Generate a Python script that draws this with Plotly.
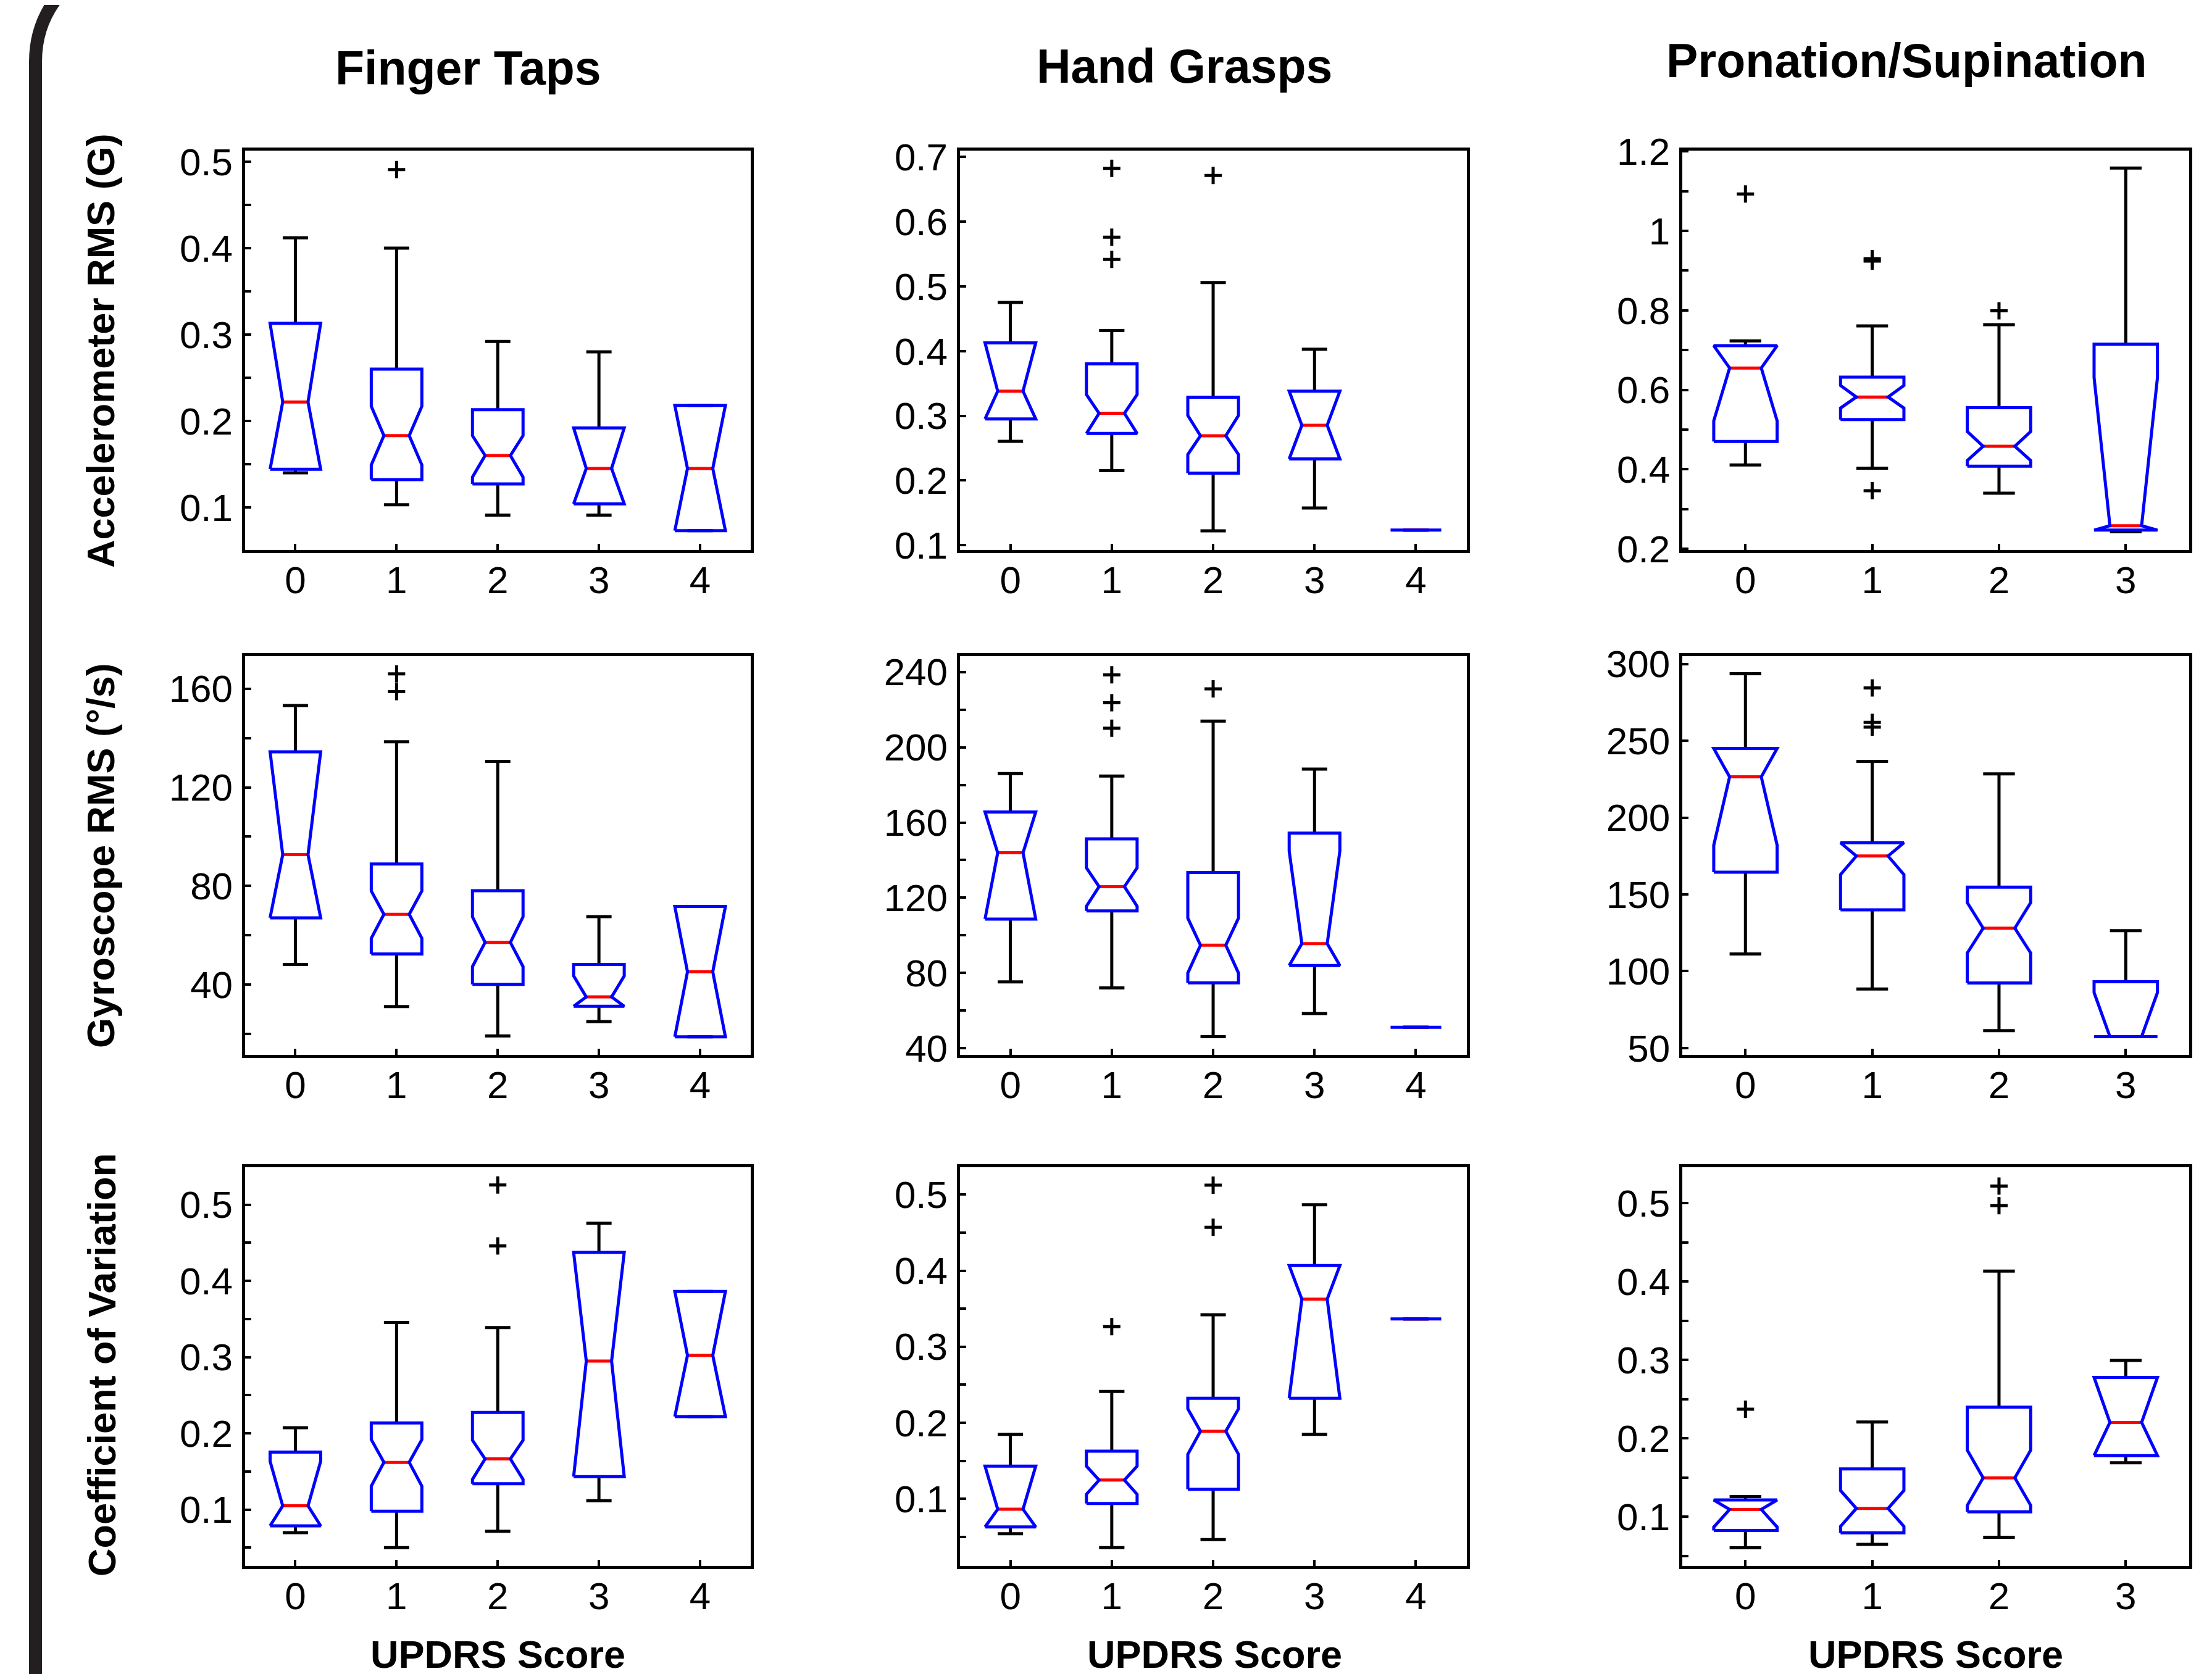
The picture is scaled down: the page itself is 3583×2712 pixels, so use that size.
import plotly.graph_objects as go
from plotly.subplots import make_subplots

# ------------------------------------------------------------------ data
SCORES_5 = [0, 1, 2, 3, 4]
SCORES_4 = [0, 1, 2, 3]

# Finger Taps – accelerometer RMS (G)
ft_acc_lower = [0.140, 0.103, 0.091, 0.091, 0.073]
ft_acc_q1 = [0.144, 0.132, 0.127, 0.104, 0.073]
ft_acc_notch_lo = [0.144, 0.149, 0.135, 0.104, 0.073]
ft_acc_median = [0.222, 0.183, 0.160, 0.145, 0.145]
ft_acc_notch_hi = [0.313, 0.217, 0.183, 0.192, 0.218]
ft_acc_q3 = [0.313, 0.260, 0.213, 0.192, 0.218]
ft_acc_upper = [0.412, 0.400, 0.292, 0.280, 0.218]
ft_acc_out_x = [1]
ft_acc_out_y = [0.491]

# Hand Grasps – accelerometer RMS (G)
hg_acc_lower = [0.2605, 0.2153, 0.1221, 0.1574, 0.1233]
hg_acc_q1 = [0.2952, 0.2727, 0.2113, 0.2333, 0.1233]
hg_acc_notch_lo = [0.2952, 0.2727, 0.2402, 0.2333, 0.1233]
hg_acc_median = [0.3381, 0.3039, 0.2692, 0.2854, 0.1233]
hg_acc_notch_hi = [0.4128, 0.3329, 0.3005, 0.3381, 0.1233]
hg_acc_q3 = [0.4128, 0.3804, 0.3288, 0.3381, 0.1233]
hg_acc_upper = [0.4753, 0.4319, 0.5060, 0.4030, 0.1233]
hg_acc_out_x = [1, 1, 1, 2]
hg_acc_out_y = [0.6826, 0.5761, 0.5419, 0.6716]

# Pronation/Supination – accelerometer RMS (G)
ps_acc_lower = [0.411, 0.403, 0.340, 0.243]
ps_acc_q1 = [0.470, 0.525, 0.408, 0.247]
ps_acc_notch_lo = [0.522, 0.554, 0.422, 0.247]
ps_acc_median = [0.655, 0.582, 0.458, 0.258]
ps_acc_notch_hi = [0.711, 0.611, 0.495, 0.631]
ps_acc_q3 = [0.711, 0.632, 0.555, 0.715]
ps_acc_upper = [0.723, 0.761, 0.764, 1.158]
ps_acc_out_x = [0, 1, 1, 1, 2]
ps_acc_out_y = [1.093, 0.930, 0.924, 0.346, 0.799]

# Finger Taps – gyroscope RMS (deg/s)
ft_gyr_lower = [48.2, 31.1, 19.2, 25.0, 18.8]
ft_gyr_q1 = [67.1, 52.4, 40.1, 31.2, 18.8]
ft_gyr_notch_lo = [67.1, 58.8, 47.3, 31.2, 18.8]
ft_gyr_median = [92.7, 68.5, 57.1, 35.0, 45.2]
ft_gyr_notch_hi = [134.4, 78.0, 67.5, 43.5, 71.7]
ft_gyr_q3 = [134.4, 88.9, 78.1, 48.2, 71.7]
ft_gyr_upper = [153.2, 138.5, 130.5, 67.6, 71.7]
ft_gyr_out_x = [1, 1]
ft_gyr_out_y = [166.0, 158.8]

# Hand Grasps – gyroscope RMS (deg/s)
hg_gyr_lower = [75.3, 72.1, 46.2, 58.5, 51.2]
hg_gyr_q1 = [108.7, 113.0, 74.8, 84.0, 51.2]
hg_gyr_notch_lo = [108.7, 115.5, 80.0, 84.0, 51.2]
hg_gyr_median = [143.9, 125.9, 94.8, 95.6, 51.2]
hg_gyr_notch_hi = [165.6, 135.9, 109.2, 144.9, 51.2]
hg_gyr_q3 = [165.6, 151.3, 133.4, 154.3, 51.2]
hg_gyr_upper = [186.0, 184.7, 213.9, 188.4, 51.2]
hg_gyr_out_x = [1, 1, 1, 2]
hg_gyr_out_y = [238.5, 223.6, 210.1, 231.0]

# Pronation/Supination – gyroscope RMS (deg/s)
ps_gyr_lower = [111.2, 88.4, 61.3, 57.4]
ps_gyr_q1 = [164.5, 139.9, 92.3, 57.4]
ps_gyr_notch_lo = [182.0, 162.9, 111.8, 57.4]
ps_gyr_median = [226.5, 175.0, 128.0, 57.4]
ps_gyr_notch_hi = [245.0, 183.6, 144.6, 86.1]
ps_gyr_q3 = [245.0, 183.6, 154.7, 93.1]
ps_gyr_upper = [293.6, 236.6, 228.4, 126.4]
ps_gyr_out_x = [1, 1, 1]
ps_gyr_out_y = [284.4, 262.0, 258.9]

# Finger Taps – coefficient of variation
ft_cv_lower = [0.0697, 0.0501, 0.0715, 0.1116, 0.2220]
ft_cv_q1 = [0.0786, 0.0978, 0.1339, 0.1432, 0.2220]
ft_cv_notch_lo = [0.0786, 0.1307, 0.1396, 0.1432, 0.2220]
ft_cv_median = [0.1049, 0.1619, 0.1664, 0.2947, 0.3022]
ft_cv_notch_hi = [0.1633, 0.1918, 0.1909, 0.4372, 0.3860]
ft_cv_q3 = [0.1753, 0.2136, 0.2274, 0.4372, 0.3860]
ft_cv_upper = [0.2074, 0.3454, 0.3388, 0.4755, 0.3860]
ft_cv_out_x = [2, 2]
ft_cv_out_y = [0.5258, 0.4457]

# Hand Grasps – coefficient of variation
hg_cv_lower = [0.0540, 0.0357, 0.0464, 0.1848, 0.3366]
hg_cv_q1 = [0.0629, 0.0938, 0.1125, 0.2321, 0.3366]
hg_cv_notch_lo = [0.0629, 0.1058, 0.1585, 0.2321, 0.3366]
hg_cv_median = [0.0862, 0.1246, 0.1888, 0.3625, 0.3366]
hg_cv_notch_hi = [0.1429, 0.1429, 0.2183, 0.4067, 0.3366]
hg_cv_q3 = [0.1429, 0.1625, 0.2321, 0.4067, 0.3366]
hg_cv_upper = [0.1848, 0.2411, 0.3420, 0.4866, 0.3366]
hg_cv_out_x = [1, 2, 2]
hg_cv_out_y = [0.3263, 0.5125, 0.4571]

# Pronation/Supination – coefficient of variation
ps_cv_lower = [0.0607, 0.0650, 0.0741, 0.1691]
ps_cv_q1 = [0.0827, 0.0797, 0.1065, 0.1782]
ps_cv_notch_lo = [0.0870, 0.0879, 0.1147, 0.1782]
ps_cv_median = [0.1095, 0.1108, 0.1497, 0.2205]
ps_cv_notch_hi = [0.1216, 0.1337, 0.1851, 0.2780]
ps_cv_q3 = [0.1216, 0.1613, 0.2400, 0.2780]
ps_cv_upper = [0.1259, 0.2210, 0.4136, 0.2996]
ps_cv_out_x = [0, 2, 2]
ps_cv_out_y = [0.2374, 0.5220, 0.4970]

# tick labels
acc_ft_ticks = [0.1, 0.15, 0.2, 0.25, 0.3, 0.35, 0.4, 0.45, 0.5]
acc_ft_labels = ["0.1", "", "0.2", "", "0.3", "", "0.4", "", "0.5"]
acc_hg_ticks = [0.1, 0.2, 0.3, 0.4, 0.5, 0.6, 0.7]
acc_hg_labels = ["0.1", "0.2", "0.3", "0.4", "0.5", "0.6", "0.7"]
acc_ps_ticks = [0.2, 0.3, 0.4, 0.5, 0.6, 0.7, 0.8, 0.9, 1.0, 1.1, 1.2]
acc_ps_labels = ["0.2", "", "0.4", "", "0.6", "", "0.8", "", "1", "", "1.2"]
gyr_ft_ticks = [20, 40, 60, 80, 100, 120, 140, 160]
gyr_ft_labels = ["", "40", "", "80", "", "120", "", "160"]
gyr_hg_ticks = [40, 60, 80, 100, 120, 140, 160, 180, 200, 220, 240]
gyr_hg_labels = ["40", "", "80", "", "120", "", "160", "", "200", "", "240"]
gyr_ps_ticks = [50, 100, 150, 200, 250, 300]
gyr_ps_labels = ["50", "100", "150", "200", "250", "300"]
cv_ticks = [0.05, 0.1, 0.15, 0.2, 0.25, 0.3, 0.35, 0.4, 0.45, 0.5]
cv_labels = ["", "0.1", "", "0.2", "", "0.3", "", "0.4", "", "0.5"]

col_titles = ["Finger Taps", "Hand Grasps", "Pronation/Supination"]
row_titles = ["Accelerometer RMS (G)", "Gyroscope RMS (°/s)", "Coefficient of Variation"]
x_title = "UPDRS Score"

# ------------------------------------------------------------------ layout
W, H = 3583, 2712
OFF = 8  # the page body margin shifts the figure by this many pixels
FONT = "Liberation Sans, Arial, Helvetica, sans-serif"
BOX_HALF = 0.25
NOTCH_HALF = 0.125
CAP_HALF = 0.125
LW = 5


def px_x(x):
    return (x - OFF) / W


def px_y(y):
    return 1 - (y - OFF) / H


x_px = [(396.5, 1216.0), (1554.5, 2375.6), (2724.6, 3546.0)]
y_px = [(244.0, 891.0), (1063.0, 1709.0), (1891.0, 2537.0)]

panels = [
    (1, 1, SCORES_5, ft_acc_lower, ft_acc_q1, ft_acc_notch_lo, ft_acc_median, ft_acc_notch_hi, ft_acc_q3, ft_acc_upper, ft_acc_out_x, ft_acc_out_y, [0.0506, 0.513], acc_ft_ticks, acc_ft_labels),
    (1, 2, SCORES_5, hg_acc_lower, hg_acc_q1, hg_acc_notch_lo, hg_acc_median, hg_acc_notch_hi, hg_acc_q3, hg_acc_upper, hg_acc_out_x, hg_acc_out_y, [0.0926, 0.710], acc_hg_ticks, acc_hg_labels),
    (1, 3, SCORES_4, ps_acc_lower, ps_acc_q1, ps_acc_notch_lo, ps_acc_median, ps_acc_notch_hi, ps_acc_q3, ps_acc_upper, ps_acc_out_x, ps_acc_out_y, [0.197, 1.202], acc_ps_ticks, acc_ps_labels),
    (2, 1, SCORES_5, ft_gyr_lower, ft_gyr_q1, ft_gyr_notch_lo, ft_gyr_median, ft_gyr_notch_hi, ft_gyr_q3, ft_gyr_upper, ft_gyr_out_x, ft_gyr_out_y, [11.5, 173.2], gyr_ft_ticks, gyr_ft_labels),
    (2, 2, SCORES_5, hg_gyr_lower, hg_gyr_q1, hg_gyr_notch_lo, hg_gyr_median, hg_gyr_notch_hi, hg_gyr_q3, hg_gyr_upper, hg_gyr_out_x, hg_gyr_out_y, [36.5, 248.4], gyr_hg_ticks, gyr_hg_labels),
    (2, 3, SCORES_4, ps_gyr_lower, ps_gyr_q1, ps_gyr_notch_lo, ps_gyr_median, ps_gyr_notch_hi, ps_gyr_q3, ps_gyr_upper, ps_gyr_out_x, ps_gyr_out_y, [45.5, 305.1], gyr_ps_ticks, gyr_ps_labels),
    (3, 1, SCORES_5, ft_cv_lower, ft_cv_q1, ft_cv_notch_lo, ft_cv_median, ft_cv_notch_hi, ft_cv_q3, ft_cv_upper, ft_cv_out_x, ft_cv_out_y, [0.026, 0.549], cv_ticks, cv_labels),
    (3, 2, SCORES_5, hg_cv_lower, hg_cv_q1, hg_cv_notch_lo, hg_cv_median, hg_cv_notch_hi, hg_cv_q3, hg_cv_upper, hg_cv_out_x, hg_cv_out_y, [0.0116, 0.536], cv_ticks, cv_labels),
    (3, 3, SCORES_4, ps_cv_lower, ps_cv_q1, ps_cv_notch_lo, ps_cv_median, ps_cv_notch_hi, ps_cv_q3, ps_cv_upper, ps_cv_out_x, ps_cv_out_y, [0.0374, 0.546], cv_ticks, cv_labels),
]

fig = make_subplots(rows=3, cols=3)


def add_panel(row, col, pos, lower, q1, nlo, med, nhi, q3, upper, ox, oy):
    wx, wy, mx, my, bx, by = [], [], [], [], [], []
    for p, lw, a, nl, m, nh, b, uw in zip(pos, lower, q1, nlo, med, nhi, q3, upper):
        wx += [p, p, None, p, p, None,
               p - CAP_HALF, p + CAP_HALF, None, p - CAP_HALF, p + CAP_HALF, None]
        wy += [lw, a, None, b, uw, None, lw, lw, None, uw, uw, None]
        mx += [p - NOTCH_HALF, p + NOTCH_HALF, None]
        my += [m, m, None]
        bx += [p - BOX_HALF, p - BOX_HALF, p - NOTCH_HALF, p - BOX_HALF, p - BOX_HALF,
               p + BOX_HALF, p + BOX_HALF, p + NOTCH_HALF, p + BOX_HALF, p + BOX_HALF,
               p - BOX_HALF, None]
        by += [a, nl, m, nh, b, b, nh, m, nl, a, a, None]
    common = dict(mode="lines", hoverinfo="skip", showlegend=False)
    fig.add_trace(go.Scatter(x=wx, y=wy, line=dict(color="black", width=LW), **common), row=row, col=col)
    fig.add_trace(go.Scatter(x=mx, y=my, line=dict(color="#ff0000", width=LW), **common), row=row, col=col)
    fig.add_trace(go.Scatter(x=bx, y=by, line=dict(color="#0000ff", width=LW), **common), row=row, col=col)
    fig.add_trace(go.Scatter(x=ox, y=oy, mode="markers", hoverinfo="skip", showlegend=False,
                             marker=dict(symbol="cross-thin", size=20, color="black",
                                         line=dict(color="black", width=5))),
                  row=row, col=col)


axis_common = dict(showline=True, linecolor="black", linewidth=5, mirror=True,
                   ticks="inside", ticklen=10, tickwidth=4, tickcolor="black",
                   showgrid=False, zeroline=False, automargin=False,
                   tickfont=dict(family=FONT, size=62, color="black"))

for (row, col, pos, lw, q1, nl, md, nh, q3, uw, ox, oy, yr, tv, tt) in panels:
    add_panel(row, col, pos, lw, q1, nl, md, nh, q3, uw, ox, oy)
    xd = [px_x(x_px[col - 1][0]), px_x(x_px[col - 1][1])]
    yd = [px_y(y_px[row - 1][1]), px_y(y_px[row - 1][0])]
    fig.update_xaxes(axis_common, domain=xd, range=[-0.5, len(pos) - 0.5],
                     tickvals=pos, ticktext=[str(p) for p in pos],
                     ticklabelstandoff=-9, row=row, col=col)
    fig.update_yaxes(axis_common, domain=yd, range=yr, tickvals=tv, ticktext=tt,
                     ticklabelstandoff=2, row=row, col=col)

annotations = []
title_pos = [(758, 110), (1918, 107), (3088, 98)]
for t, (px, py) in zip(col_titles, title_pos):
    annotations.append(dict(text="<b>%s</b>" % t, x=px_x(px), y=px_y(py), xref="paper", yref="paper",
                            xanchor="center", yanchor="middle", showarrow=False,
                            font=dict(family=FONT, size=77, color="black")))
ytitle_pos = [(163, 568), (163, 1386), (165, 2211)]
for t, (px, py) in zip(row_titles, ytitle_pos):
    annotations.append(dict(text="<b>%s</b>" % t, x=px_x(px), y=px_y(py), xref="paper", yref="paper",
                            xanchor="center", yanchor="middle", textangle=-90, showarrow=False,
                            font=dict(family=FONT, size=63, color="black")))
for cx in (806, 1967, 3135):
    annotations.append(dict(text="<b>%s</b>" % x_title, x=px_x(cx), y=px_y(2717), xref="paper", yref="paper",
                            xanchor="center", yanchor="bottom", showarrow=False,
                            font=dict(family=FONT, size=63, color="black")))

# decorative rounded frame on the left edge
fx, fy0 = 57.5, 100.0


def pt(x, y):
    return "%.5f,%.5f" % (px_x(x), px_y(y))


frame_path = ("M" + pt(fx, H + 20) + " L" + pt(fx, fy0) +
              " C" + pt(fx, fy0 - 37) + " " + pt(fx + 10, fy0 - 70) + " " + pt(fx + 32, 0) +
              " L" + pt(fx + 40, -12))

fig.update_layout(
    width=W, height=H, margin=dict(l=0, r=0, t=0, b=0, pad=0, autoexpand=False),
    paper_bgcolor="white", plot_bgcolor="white",
    font=dict(family=FONT, color="black"),
    showlegend=False, annotations=annotations,
    shapes=[dict(type="path", path=frame_path, xref="paper", yref="paper",
                 line=dict(color="#231f20", width=21), layer="above")],
)

fig.write_html("out.html")
